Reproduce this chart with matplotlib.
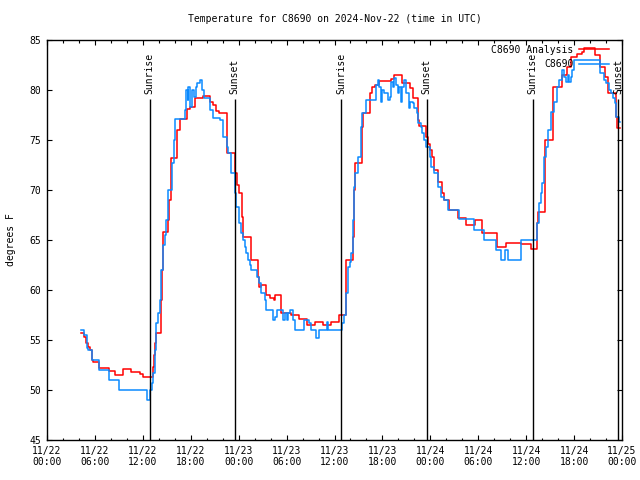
import matplotlib
matplotlib.use('Agg')
import matplotlib.pyplot as plt

# hours since 2024-11-22 00:00 UTC and temperature (F)
analysis_h = [4.25, 4.6, 4.9, 5.1, 5.4, 5.6, 5.7, 6.5, 7.75, 8.5, 9.5, 10.5, 11.6, 12.0,
              13.3, 13.45, 13.5, 13.6, 14.3, 14.4, 14.5, 15.1, 15.3, 15.5, 16.3, 16.6,
              17.5, 17.9, 18.5, 19.5, 20.4, 20.8, 21.2, 21.5, 22.5, 23.5, 23.8, 24.0,
              24.4, 24.5, 25.5, 26.4, 26.6, 26.75, 27.45, 27.9, 28.4, 28.5, 29.3, 30.6,
              31.6, 32.5, 33.6, 34.5, 35.5, 36.6, 37.4, 37.5, 38.3, 38.4, 38.5, 38.6,
              39.4, 39.5, 39.6, 40.5, 40.7, 41.1, 41.6, 43.1, 43.5, 44.45, 45.5, 45.8,
              46.4, 46.6, 47.45, 47.7, 47.9, 48.2, 48.4, 48.9, 49.0, 49.4, 49.75, 50.4,
              51.5, 52.5, 53.6, 54.5, 56.4, 57.5, 59.4, 60.6, 61.4, 61.5, 62.3, 62.4,
              63.3, 64.5, 65.1, 65.6, 66.4, 67.0, 67.3, 68.6, 69.2, 69.9, 70.3, 71.2,
              71.4, 71.7]
analysis_t = [55.7, 55.3, 54.7, 54.3, 54.0, 53.0, 52.8, 52.2, 51.9, 51.5, 52.1, 51.8, 51.6, 51.3,
              52.3, 53.5, 54.7, 55.7, 59.0, 62.0, 65.8, 67.0, 69.0, 73.2, 76.0, 77.1,
              78.1, 78.3, 79.2, 79.4, 78.8, 78.5, 77.9, 77.7, 73.7, 71.7, 70.5, 69.7,
              67.3, 65.3, 63.0, 61.3, 60.3, 60.5, 59.5, 59.2, 59.0, 59.5, 57.7, 57.5,
              57.1, 56.5, 56.8, 56.5, 56.8, 57.5, 58.7, 63.0, 65.3, 68.7, 70.0, 72.7,
              75.0, 76.3, 77.7, 79.7, 80.3, 80.5, 80.9, 81.1, 81.5, 80.7, 80.2, 79.2,
              77.0, 76.4, 75.3, 74.6, 74.0, 73.3, 72.0, 71.0, 70.8, 69.7, 69.0, 68.0,
              67.2, 66.5, 67.0, 65.7, 64.3, 64.7, 64.6, 64.1, 66.7, 67.8, 70.3, 75.0,
              80.3, 81.5, 82.3, 83.3, 83.6, 83.8, 84.2, 83.5, 82.3, 81.3, 79.7, 77.3,
              76.2, 76.2]

obs_h = [4.25, 4.6, 4.95, 5.1, 5.6, 6.5, 7.8, 9.0, 12.5, 12.9, 13.1, 13.3, 13.5, 13.7,
         13.9, 14.1, 14.3, 14.5, 14.75, 14.9, 15.2, 15.6, 15.9, 16.0, 17.3, 17.45,
         17.6, 17.7, 17.9, 18.1, 18.2, 18.4, 18.6, 18.8, 19.2, 19.4, 19.6, 20.4, 20.8,
         21.6, 22.0, 22.5, 22.7, 23.1, 23.5, 23.7, 24.0, 24.3, 24.5, 24.75, 24.95,
         25.2, 25.4, 25.6, 26.3, 26.6, 26.8, 27.3, 27.4, 28.3, 28.5, 28.8, 29.6, 29.8,
         30.0, 30.2, 30.4, 30.8, 31.1, 32.2, 32.8, 33.1, 33.7, 34.1, 35.0, 35.2, 37.0,
         37.25, 37.5, 37.7, 37.9, 38.1, 38.3, 38.4, 38.6, 38.9, 39.3, 39.5, 40.0, 41.2,
         41.4, 41.6, 41.8, 42.0, 42.25, 42.7, 42.9, 43.1, 43.3, 43.5, 43.7, 43.9, 44.1,
         44.3, 44.5, 44.75, 45.0, 45.3, 45.5, 45.8, 46.0, 46.3, 46.5, 46.8, 47.0,
         47.25, 47.5, 47.9, 48.1, 48.5, 48.9, 49.3, 49.75, 50.2, 51.6, 53.5, 54.75,
         56.2, 56.8, 57.3, 57.7, 59.4, 61.4, 61.6, 61.8, 62.0, 62.25, 62.5, 62.7,
         63.1, 63.5, 63.9, 64.1, 64.5, 64.75, 64.95, 65.2, 65.4, 65.6, 65.8, 66.0,
         69.3, 69.75, 70.0, 70.4, 70.6, 70.9, 71.1, 71.3, 71.6, 71.7]
obs_t = [56.0, 55.5, 54.2, 54.0, 53.0, 52.0, 51.0, 50.0, 49.0, 50.0, 50.7, 51.7, 54.0, 56.7,
         57.7, 59.0, 62.0, 64.5, 65.5, 67.0, 70.0, 72.7, 75.0, 77.1, 78.0, 80.0,
         79.0, 80.3, 78.3, 79.7, 80.0, 79.3, 80.3, 80.7, 81.0, 80.0, 79.2, 78.0, 77.2,
         77.0, 75.3, 74.3, 73.7, 71.7, 69.7, 68.3, 66.7, 65.7, 65.0, 64.3, 63.7,
         63.0, 62.5, 62.0, 61.3, 60.7, 59.7, 59.0, 58.0, 57.0, 57.3, 58.0, 57.0, 57.7,
         57.0, 57.7, 58.0, 57.0, 56.0, 57.0, 56.7, 56.0, 55.2, 56.0, 56.8, 56.0, 56.7,
         57.5, 59.7, 62.3, 62.8, 63.7, 67.0, 70.3, 71.7, 73.3, 76.3, 77.7, 79.0, 80.5,
         81.0, 80.3, 78.8, 80.0, 79.7, 79.0, 79.3, 80.8, 80.3, 81.2, 80.5, 79.7, 80.3,
         78.8, 80.3, 81.0, 79.7, 78.2, 78.8, 78.7, 78.2, 77.7, 76.7, 76.3, 75.7,
         75.0, 74.3, 73.3, 72.3, 71.7, 70.3, 69.3, 69.0, 68.0, 67.1, 66.0, 65.0,
         64.0, 63.0, 64.0, 63.0, 65.0, 66.7, 68.7, 69.7, 70.7, 73.3, 74.3, 76.0,
         77.8, 78.8, 80.3, 81.0, 82.0, 81.3, 80.8, 81.5, 80.8, 81.3, 82.0, 83.0,
         81.7, 81.0, 80.7, 80.0, 79.7, 79.2, 78.7, 77.3, 76.8, 76.8]

sunrise_h = [12.85, 36.8, 60.8]
sunset_h = [23.5, 47.55, 71.55]

tick_h = list(range(0, 73, 6))
tick_labels = ['11/22\n00:00', '11/22\n06:00', '11/22\n12:00', '11/22\n18:00',
               '11/23\n00:00', '11/23\n06:00', '11/23\n12:00', '11/23\n18:00',
               '11/24\n00:00', '11/24\n06:00', '11/24\n12:00', '11/24\n18:00',
               '11/25\n00:00']

plt.rcParams['font.family'] = 'DejaVu Sans Mono'
plt.rcParams['font.size'] = 7

fig = plt.figure(figsize=(6.4, 4.8), dpi=100)
ax = fig.add_axes([47/640, 40/480, 575/640, 400/480])

ax.plot(analysis_h, analysis_t, color='#ff0000', lw=1.1, drawstyle='steps-post',
        label='C8690 Analysis')
ax.plot(obs_h, obs_t, color='#0a8aff', lw=1.1, drawstyle='steps-post', label='C8690')

for h in sunrise_h:
    ax.vlines(h, 45, 79.1, color='black', lw=1.0)
    ax.text(h, 79.6, 'Sunrise', rotation=90, ha='center', va='bottom')
for h in sunset_h:
    ax.vlines(h, 45, 79.1, color='black', lw=1.0)
    ax.text(h, 79.6, 'Sunset', rotation=90, ha='center', va='bottom')

ax.set_xlim(0, 72)
ax.set_ylim(45, 85)
ax.set_xticks(tick_h)
ax.set_xticklabels(tick_labels)
ax.set_xticks(range(0, 73, 2), minor=True)
ax.set_yticks(range(45, 86, 5))
ax.tick_params(which='both', direction='in', top=True, right=True)
ax.tick_params(which='major', length=3.5, width=0.8, pad=4)
ax.tick_params(which='minor', length=1.8, width=0.8)
ax.tick_params(axis='y', which='minor', left=False, right=False)
for s in ax.spines.values():
    s.set_linewidth(1.0)

ax.set_ylabel('degrees F', labelpad=10)
ax.set_title('Temperature for C8690 on 2024-Nov-22 (time in UTC)', fontsize=7, pad=13)

ax.legend(loc='upper right', bbox_to_anchor=(0.985, 1.0), frameon=False,
          markerfirst=False, alignment='right', handlelength=3.0,
          handletextpad=0.6, labelspacing=0.45, borderaxespad=0.1)

fig.savefig('out.png', dpi=100)
